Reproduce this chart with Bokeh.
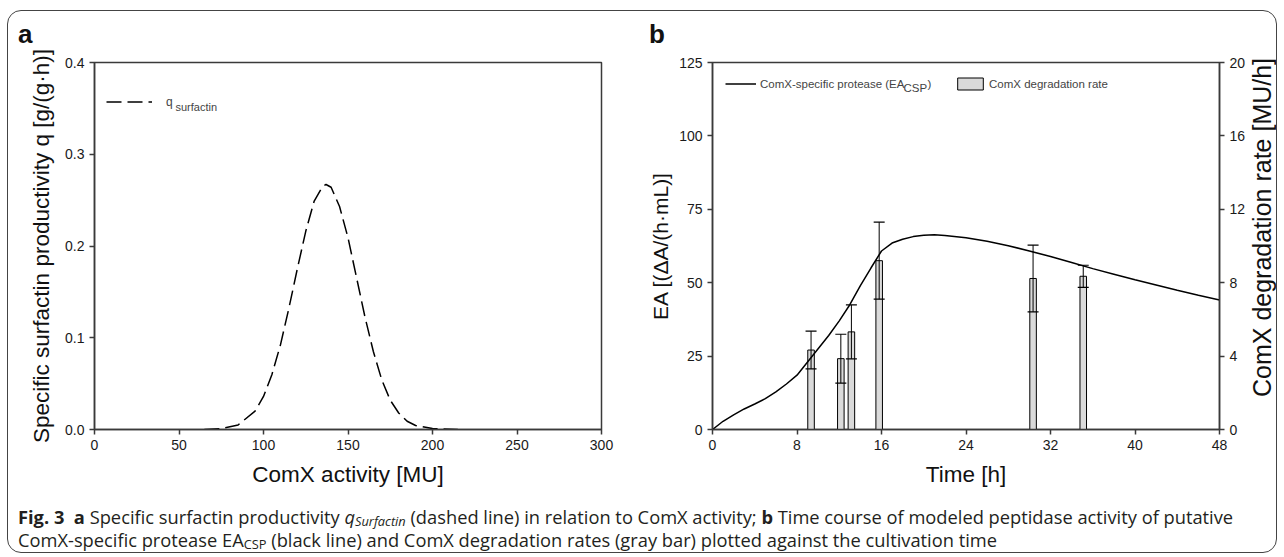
from bokeh.plotting import figure
from bokeh.models import (Range1d, LinearAxis, Legend, LegendItem, Label, Div,
                          FixedTicker, NumeralTickFormatter, ColumnDataSource)
from bokeh.layouts import row, column
from bokeh.embed import file_html
from bokeh.resources import INLINE

# ---------------- data: panel a ----------------
comx_activity = [65, 75, 85, 95, 100, 105, 110, 115, 120, 125, 130, 135, 137, 140,
                 145, 150, 155, 160, 165, 170, 175, 180, 185, 190, 200, 215]
q_surfactin = [0.0001, 0.001, 0.005, 0.020, 0.036, 0.060, 0.092, 0.132, 0.175, 0.216,
               0.249, 0.265, 0.267, 0.264, 0.243, 0.209, 0.166, 0.123, 0.085, 0.054,
               0.032, 0.018, 0.009, 0.0044, 0.001, 0.0001]

# ---------------- data: panel b ----------------
time_h = [0, 1, 2, 3, 4, 5, 6, 7, 8, 9, 10, 11, 12, 13, 14, 15, 16, 17, 18, 19, 20,
          21, 22, 24, 26, 28, 30, 32, 34, 36, 38, 40, 42, 44, 46, 48]
ea_csp = [0, 2.8, 5.0, 7.0, 8.7, 10.5, 12.8, 15.5, 18.5, 23.0, 27.5, 32.0, 37.0, 42.5,
          49.0, 55.0, 60.8, 63.5, 64.8, 65.7, 66.2, 66.3, 66.1, 65.3, 64.1, 62.6, 60.8,
          58.9, 56.9, 54.8, 52.9, 51.0, 49.2, 47.4, 45.7, 44.1]

deg_time = [9.33, 12.15, 13.15, 15.78, 30.35, 35.1]
deg_rate = [4.33, 3.86, 5.32, 9.2, 8.23, 8.35]
deg_err = [1.03, 1.33, 1.47, 2.1, 1.82, 0.6]

xticks_a = [0, 50, 100, 150, 200, 250, 300]
yticks_a = [0.0, 0.1, 0.2, 0.3, 0.4]
xticks_b = [0, 8, 16, 24, 32, 40, 48]
yticks_b = [0, 25, 50, 75, 100, 125]
yticks_b_right = [0, 4, 8, 12, 16, 20]

FONT = "Liberation Sans"
AX = "#3a3a3a"
HEAD = 38          # height of the row holding the panel letters


def style_axis(ax, standoff, size="21px"):
    ax.axis_line_color = AX
    ax.axis_line_width = 1.5
    ax.major_tick_line_color = AX
    ax.major_tick_line_width = 1.5
    ax.major_tick_out = 5
    ax.major_tick_in = 0
    ax.minor_tick_line_color = None
    ax.major_label_text_font = FONT
    ax.major_label_text_font_size = "14px"
    ax.major_label_text_color = "#1a1a1a"
    ax.major_label_standoff = 5
    ax.axis_label_text_font = FONT
    ax.axis_label_text_font_size = size
    ax.axis_label_text_font_style = "normal"
    ax.axis_label_text_color = "#111111"
    ax.axis_label_standoff = standoff


def panel_letter(txt, width, pad_left):
    return Div(text=f"<span style='position:relative;top:4px'>{txt}</span>",
               width=width, height=HEAD, margin=0,
               styles={"font-family": "'Liberation Sans'", "font-size": "26px",
                       "font-weight": "bold", "color": "#111111",
                       "line-height": f"{HEAD}px", "padding-left": f"{pad_left}px"})


# ---------------- panel a ----------------
pa = figure(width=631, height=483 - HEAD, x_range=Range1d(0, 300), y_range=Range1d(0, 0.4),
            output_backend="svg", toolbar_location=None,
            min_border_left=86, min_border_right=38, min_border_top=51 - HEAD,
            min_border_bottom=65)
pa.grid.visible = False
pa.outline_line_color = AX
pa.outline_line_width = 1.5
pa.xaxis.ticker = FixedTicker(ticks=xticks_a)
pa.yaxis.ticker = FixedTicker(ticks=yticks_a)
pa.yaxis.formatter = NumeralTickFormatter(format="0.0")
pa.xaxis.axis_label = "ComX activity [MU]"
pa.yaxis.axis_label = "Specific surfactin productivity q [g/(g\u00b7h)]"
style_axis(pa.xaxis[0], 9, "22.5px")
style_axis(pa.yaxis[0], 8, "22.5px")

src_a = ColumnDataSource(dict(x=comx_activity, y=q_surfactin))
ra = pa.line("x", "y", source=src_a, line_color="black", line_width=1.5, line_dash="15 6")

leg_a = Legend(items=[LegendItem(label="q", renderers=[ra])], location=(12, 320),
               glyph_width=46, glyph_height=15, label_standoff=14, padding=0, margin=0,
               spacing=0, border_line_color=None, background_fill_alpha=0,
               label_text_font=FONT, label_text_font_size="12px")
pa.add_layout(leg_a)
pa.add_layout(Label(x=81, y=323, x_units="screen", y_units="screen", text="surfactin",
                    text_font=FONT, text_font_size="11px", text_baseline="middle"))

# ---------------- panel b ----------------
pb = figure(width=609, height=483 - HEAD, x_range=Range1d(0, 48), y_range=Range1d(0, 125),
            output_backend="svg", toolbar_location=None,
            min_border_left=73, min_border_right=28, min_border_top=51 - HEAD,
            min_border_bottom=65)
pb.extra_y_ranges = {"right": Range1d(0, 20)}
pb.grid.visible = False
pb.outline_line_color = AX
pb.outline_line_width = 1.5
pb.xaxis.ticker = FixedTicker(ticks=xticks_b)
pb.yaxis.ticker = FixedTicker(ticks=yticks_b)
pb.xaxis.axis_label = "Time [h]"
pb.yaxis.axis_label = "EA [(\u0394A/(h\u00b7mL)]"
style_axis(pb.xaxis[0], 9, "22.5px")
style_axis(pb.yaxis[0], 4, "21px")
rax = LinearAxis(y_range_name="right", ticker=FixedTicker(ticks=yticks_b_right))
style_axis(rax, 6)
pb.add_layout(rax, "right")

src_bar = ColumnDataSource(dict(
    x=deg_time, top=deg_rate,
    up=[r + e for r, e in zip(deg_rate, deg_err)],
    lo=[r - e for r, e in zip(deg_rate, deg_err)]))
rbar = pb.vbar(x="x", top="top", bottom=0, width=0.62, source=src_bar, y_range_name="right",
               fill_color="#dadada", line_color="black", line_width=1)
pb.segment(x0="x", y0="lo", x1="x", y1="up", source=src_bar, y_range_name="right",
           line_color="black", line_width=1)
pb.scatter(x="x", y="up", source=src_bar, y_range_name="right", marker="dash", size=11,
           line_color="black", line_width=1.2)
pb.scatter(x="x", y="lo", source=src_bar, y_range_name="right", marker="dash", size=11,
           line_color="black", line_width=1.2)

src_b = ColumnDataSource(dict(x=time_h, y=ea_csp))
rline = pb.line("x", "y", source=src_b, line_color="black", line_width=1.5)

leg_b1 = Legend(items=[LegendItem(label="ComX-specific protease (EA", renderers=[rline])],
                location=(13, 338), glyph_width=31, glyph_height=15, label_standoff=4,
                padding=0, margin=0, spacing=0, border_line_color=None,
                background_fill_alpha=0, label_text_font=FONT, label_text_font_size="11.5px")
leg_b2 = Legend(items=[LegendItem(label="ComX degradation rate", renderers=[rbar])],
                location=(242, 338), glyph_width=32, glyph_height=15, label_standoff=3,
                padding=0, margin=0, spacing=0, border_line_color=None,
                background_fill_alpha=0, label_text_font=FONT, label_text_font_size="11.5px")
pb.add_layout(leg_b1)
pb.add_layout(leg_b2)
pb.add_layout(Label(x=191, y=342, x_units="screen", y_units="screen", text="CSP",
                    text_font=FONT, text_font_size="11.5px", text_baseline="middle"))
pb.add_layout(Label(x=215, y=346, x_units="screen", y_units="screen", text=")",
                    text_font=FONT, text_font_size="11.5px", text_baseline="middle"))

# right-hand axis title, reading bottom-to-top like the reference
right_label = Div(text="ComX degradation rate [MU/h]", width=28, height=356, margin=0,
                  styles={"font-family": "'Liberation Sans'", "font-size": "25px",
                          "color": "#111111", "writing-mode": "vertical-rl",
                          "transform": "rotate(180deg)", "text-align": "center",
                          "white-space": "nowrap", "line-height": "28px"})

head = row(panel_letter("a", 631, 10), panel_letter("b", 609 + 28, 10))

SUB = "font-size:70%;line-height:0;vertical-align:-0.12em"
caption = Div(
    text=("<b>Fig.\u00a03</b>&nbsp; <b>a</b> Specific surfactin productivity "
          f"<i>q<sub style='{SUB}'>Surfactin</sub></i> (dashed line) in relation to ComX activity; "
          "<b>b</b> Time course of modeled peptidase activity of putative<br>"
          f"ComX-specific protease EA<sub style='{SUB}'>CSP</sub> (black line) and ComX degradation rates "
          "(gray bar) plotted against the cultivation time"),
    width=1268, height=58, margin=0,
    styles={"font-family": "'Open Sans'", "font-size": "18.3px", "line-height": "23px",
            "color": "#231f20", "padding-left": "10px", "padding-top": "11px",
            "white-space": "nowrap"})

layout = column(head, row(pa, pb, right_label), caption,
                styles={"border": "1px solid #444", "border-radius": "14px",
                        "margin-top": "10px", "margin-left": "7px", "background": "white"})

open("out.html", "w").write(file_html(layout, INLINE))
